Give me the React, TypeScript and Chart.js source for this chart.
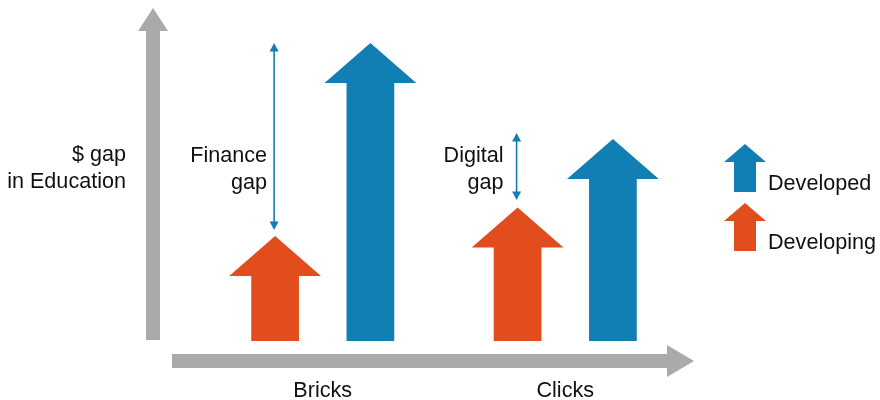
import React, { useEffect, useRef } from 'react';
import { Chart, registerables } from 'chart.js';

Chart.register(...registerables);

const FONT = '"Liberation Sans", Arial, Helvetica, sans-serif';
const FS = 21.6;

const categories = ['Bricks', 'Clicks'];
const developing = [35, 44.5];
const developed = [99.3, 67.3];
const gapTop = [99.3, 69.3];
const gapBottom = [37, 47];
const gapLabels = [['Finance', 'gap'], ['Digital', 'gap']];
const yAxisLabel = ['$ gap', 'in Education'];
const seriesNames = ['Developing', 'Developed'];

const ORANGE = '#E14D1C';
const BLUE = '#117FB3';
const GRAY = '#AAAAAA';
const TEXT = '#111111';

function upArrow(ctx: CanvasRenderingContext2D, cx: number, tipY: number, baseY: number, headW: number, shaftW: number, headH: number) {
  ctx.beginPath();
  ctx.moveTo(cx, tipY);
  ctx.lineTo(cx + headW / 2, tipY + headH);
  ctx.lineTo(cx + shaftW / 2, tipY + headH);
  ctx.lineTo(cx + shaftW / 2, baseY);
  ctx.lineTo(cx - shaftW / 2, baseY);
  ctx.lineTo(cx - shaftW / 2, tipY + headH);
  ctx.lineTo(cx - headW / 2, tipY + headH);
  ctx.closePath();
  ctx.fill();
}

function rightArrow(ctx: CanvasRenderingContext2D, cy: number, startX: number, tipX: number, headH: number, shaftH: number, headW: number) {
  ctx.beginPath();
  ctx.moveTo(tipX, cy);
  ctx.lineTo(tipX - headW, cy - headH / 2);
  ctx.lineTo(tipX - headW, cy - shaftH / 2);
  ctx.lineTo(startX, cy - shaftH / 2);
  ctx.lineTo(startX, cy + shaftH / 2);
  ctx.lineTo(tipX - headW, cy + shaftH / 2);
  ctx.lineTo(tipX - headW, cy + headH / 2);
  ctx.closePath();
  ctx.fill();
}

const arrowPlugin = {
  id: 'arrowPlugin',
  beforeDatasetsDraw(chart: any) {
    const { ctx, chartArea } = chart;
    const { left, bottom } = chartArea;
    ctx.save();
    ctx.fillStyle = GRAY;
    const ax = left - 48.5;
    upArrow(ctx, ax, 8, bottom - 1, 30, 14, 23);
    rightArrow(ctx, bottom + 20, left - 29.5, 694, 32, 14, 27);
    ctx.restore();
  },
  beforeDatasetDraw() {
    return false;
  },
  afterDatasetsDraw(chart: any) {
    const { ctx, chartArea } = chart;
    const yScale = chart.scales.y;
    ctx.save();
    chart.data.datasets.forEach((ds: any, di: number) => {
      const meta = chart.getDatasetMeta(di);
      ctx.fillStyle = ds.backgroundColor;
      meta.data.forEach((bar: any) => {
        const w = bar.width;
        upArrow(ctx, bar.x, bar.y, bar.base, w, w * 0.52, w * 0.435);
      });
    });

    const devMeta = chart.getDatasetMeta(0);
    ctx.strokeStyle = BLUE;
    ctx.lineWidth = 1.6;
    gapTop.forEach((t, i) => {
      const x = devMeta.data[i].x - 1;
      const y1 = yScale.getPixelForValue(t);
      const y2 = yScale.getPixelForValue(gapBottom[i]);
      ctx.fillStyle = BLUE;
      ctx.beginPath();
      ctx.moveTo(x, y1 + 4);
      ctx.lineTo(x, y2 - 4);
      ctx.stroke();
      ctx.beginPath();
      ctx.moveTo(x, y1);
      ctx.lineTo(x + 4.5, y1 + 8.5);
      ctx.lineTo(x - 4.5, y1 + 8.5);
      ctx.closePath();
      ctx.fill();
      ctx.beginPath();
      ctx.moveTo(x, y2);
      ctx.lineTo(x + 4.5, y2 - 8.5);
      ctx.lineTo(x - 4.5, y2 - 8.5);
      ctx.closePath();
      ctx.fill();
      ctx.fillStyle = TEXT;
      ctx.font = `${FS}px ${FONT}`;
      ctx.textAlign = 'right';
      ctx.textBaseline = 'middle';
      const lx = i === 0 ? x - 7 : x - 13;
      gapLabels[i].forEach((line, li) => {
        ctx.fillText(line, lx, chartArea.top + 115 + li * 27);
      });
    });

    ctx.fillStyle = TEXT;
    ctx.font = `${FS}px ${FONT}`;
    ctx.textAlign = 'right';
    ctx.textBaseline = 'middle';
    yAxisLabel.forEach((line, li) => {
      ctx.fillText(line, 126, chartArea.top + 114 + li * 27);
    });

    const order = [1, 0];
    order.forEach((di, k) => {
      const ds = chart.data.datasets[di];
      const tip = 144 + k * 59;
      ctx.fillStyle = ds.backgroundColor;
      upArrow(ctx, 745, tip, tip + 48, 42, 22, 18);
      ctx.fillStyle = TEXT;
      ctx.textAlign = 'left';
      ctx.fillText(ds.label, 768, tip + 40);
    });
    ctx.restore();
  },
};

export default function App() {
  const ref = useRef<HTMLCanvasElement>(null);
  useEffect(() => {
    if (!ref.current) return;
    Chart.defaults.font.family = FONT;
    const chart = new Chart(ref.current, {
      type: 'bar',
      data: {
        labels: categories,
        datasets: [
          { label: seriesNames[0], data: developing, backgroundColor: ORANGE, barPercentage: 0.963, categoryPercentage: 0.786 },
          { label: seriesNames[1], data: developed, backgroundColor: BLUE, barPercentage: 0.963, categoryPercentage: 0.786 },
        ],
      },
      options: {
        responsive: false,
        animation: false,
        layout: { padding: { left: 201.5, right: 193.5, top: 41, bottom: 0 } },
        plugins: { legend: { display: false }, tooltip: { enabled: false } },
        scales: {
          x: {
            type: 'category',
            offset: true,
            grid: { display: false, drawTicks: false },
            border: { display: false },
            ticks: { color: TEXT, font: { size: FS, family: FONT }, padding: 37 },
            afterFit: (scale: any) => { scale.height = 59; },
          },
          y: { display: false, min: 0, max: 100 },
        },
      },
      plugins: [arrowPlugin],
    });
    return () => chart.destroy();
  }, []);
  return (
    <div style={{ position: 'absolute', left: 0, top: 0, width: 880, height: 400, background: '#fff' }}>
      <canvas ref={ref} width={880} height={400} />
    </div>
  );
}
